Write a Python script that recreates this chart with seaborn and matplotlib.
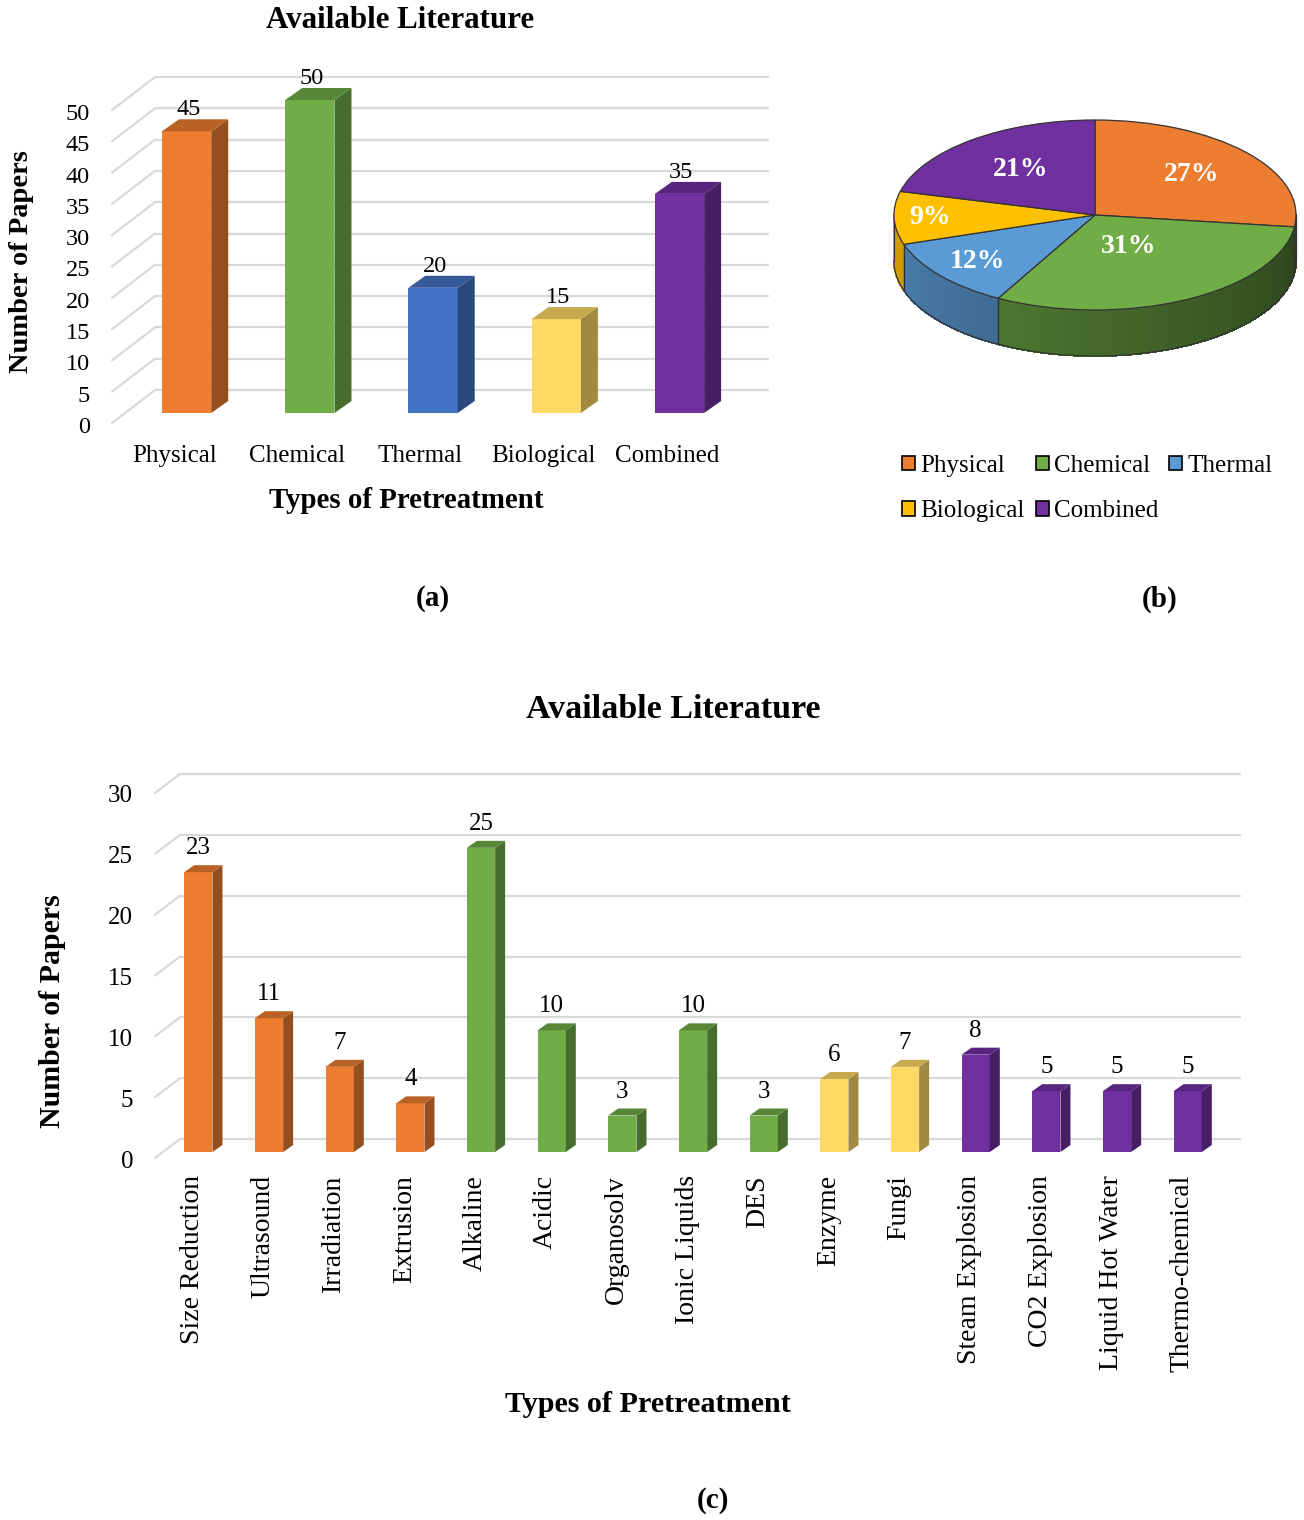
import numpy as np
import pandas as pd
import matplotlib
matplotlib.use("Agg")
import matplotlib.pyplot as plt
import seaborn as sns
import matplotlib.colors as mcolors
from matplotlib.patches import Polygon, Patch
from matplotlib.lines import Line2D
from matplotlib.collections import PolyCollection
from matplotlib.transforms import IdentityTransform

# ---------------- data ----------------
groups_a = ["Physical", "Chemical", "Thermal", "Biological", "Combined"]
papers_a = [45, 50, 20, 15, 35]
yticks_a = [0, 5, 10, 15, 20, 25, 30, 35, 40, 45, 50]

pie_groups = ["Physical", "Chemical", "Thermal", "Biological", "Combined"]
pie_pct = [27, 31, 12, 9, 21]

methods_c = ["Size Reduction", "Ultrasound", "Irradiation", "Extrusion",
             "Alkaline", "Acidic", "Organosolv", "Ionic Liquids", "DES",
             "Enzyme", "Fungi",
             "Steam Explosion", "CO2 Explosion", "Liquid Hot Water", "Thermo-chemical"]
papers_c = [23, 11, 7, 4, 25, 10, 3, 10, 3, 6, 7, 8, 5, 5, 5]
group_c = (["Physical"] * 4 + ["Chemical"] * 5 + ["Biological"] * 2 + ["Combined"] * 4)
yticks_c = [0, 5, 10, 15, 20, 25, 30]

bar_colors = {"Physical": "#ED7D31", "Chemical": "#70AD47", "Thermal": "#4472C4",
              "Biological": "#FFD966", "Combined": "#7030A0"}
pie_colors = {"Physical": "#ED7D31", "Chemical": "#70AD47", "Thermal": "#5B9BD5",
              "Biological": "#FFC000", "Combined": "#7030A0"}

# ---------------- setup ----------------
W, H = 1304, 1520
sns.set_theme(style="white")
plt.rcParams["font.family"] = ["Liberation Serif", "DejaVu Serif"]
plt.rcParams["text.color"] = "black"
fig = plt.figure(figsize=(W / 100, H / 100), dpi=100)
fig.patch.set_facecolor("white")
GRID = "#D9D9D9"
ID = IdentityTransform()


def px_axes(left, top, right, bottom):
    return fig.add_axes([left / W, 1 - bottom / H, (right - left) / W, (bottom - top) / H])


def shade(c, f):
    r, g, b = mcolors.to_rgb(c)
    return (r * f, g * f, b * f)


def fig_text(x, y, s, **kw):
    fig.text(x / W, 1 - y / H, s, color="black", **kw)


def frame3d(ax, ticks, front, back, tick_fs, lab_dx, lab_dy):
    x0, x1 = ax.get_xlim()
    for v in ticks:
        (lx, ly), (rx, _) = ax.transData.transform([(x0, v), (x1, v)])
        ax.add_line(Line2D([lx + front[0], lx + back[0]], [ly + front[1], ly + back[1]],
                           transform=ID, color=GRID, lw=1.6, clip_on=False, zorder=0.5))
        ax.add_line(Line2D([lx + back[0], rx + back[0]], [ly + back[1], ly + back[1]],
                           transform=ID, color=GRID, lw=1.6, clip_on=False, zorder=0.5))
        ax.text(lx + front[0] + lab_dx, ly + front[1] + lab_dy, f"{v}", transform=ID,
                ha="right", va="baseline", fontsize=tick_fs, color="black")


def bars3d(ax, depth, val_fs, val_gap, val_dx):
    dx, dy = depth
    for p in list(ax.patches):
        h = p.get_height()
        if not np.isfinite(h) or p.get_width() == 0:
            continue
        p.set_edgecolor("none")
        p.set_linewidth(0)
        x0 = p.get_x()
        x1 = x0 + p.get_width()
        (lx, ty), (rx, by) = ax.transData.transform([(x0, h), (x1, 0)])
        fc = p.get_facecolor()
        side = [(rx, by), (rx, ty), (rx + dx, ty + dy), (rx + dx, by + dy)]
        top = [(lx, ty), (rx, ty), (rx + dx, ty + dy), (lx + dx, ty + dy)]
        ax.add_patch(Polygon(side, closed=True, transform=ID, facecolor=shade(fc, 0.63),
                             edgecolor="none", clip_on=False, zorder=2))
        ax.add_patch(Polygon(top, closed=True, transform=ID, facecolor=shade(fc, 0.78),
                             edgecolor="none", clip_on=False, zorder=2))
        ax.text((lx + rx) / 2 + val_dx, ty + val_gap, f"{int(round(h))}", transform=ID,
                ha="center", va="baseline", fontsize=val_fs, color="black")


# ---------------- (a) bar chart ----------------
ax_a = px_axes(125, 100, 738, 413)
df_a = pd.DataFrame({"type": groups_a, "papers": papers_a})
sns.barplot(data=df_a, x="type", y="papers", hue="type", palette=bar_colors,
            order=groups_a, hue_order=groups_a, width=0.4, dodge=False,
            saturation=1, legend=False, ax=ax_a, zorder=2, linewidth=0)
ax_a.set_xlim(-0.5, 4.475)
ax_a.set_ylim(0, 50)
ax_a.axis("off")
front_a, back_a = (-13, -10), (30, 23)
frame3d(ax_a, yticks_a, front_a, back_a, 17.5, -22, -10)
bars3d(ax_a, (17, 12), 17.5, 16, 2)
for i, g in enumerate(groups_a):
    cx, by = ax_a.transData.transform((i, 0))
    ax_a.text(cx - 12.5, by - 49, g, transform=ID, ha="center", va="baseline",
              fontsize=18, color="black")

fig_text(400, 21, "Available Literature", ha="center", va="center", fontsize=22.3, fontweight="bold")
fig_text(406, 500, "Types of Pretreatment", ha="center", va="center", fontsize=20.8, fontweight="bold")
fig_text(22, 262, "Number of Papers", ha="center", va="center", rotation=90, fontsize=20.5, fontweight="bold")
fig_text(433, 599, "(a)", ha="center", va="center", fontsize=21, fontweight="bold")

# ---------------- (b) 3D pie ----------------
cxp, cyp, ra, rb = 1095, 215, 201, 95
ax_b = px_axes(cxp - ra, cyp - rb, cxp + ra, cyp + rb)
wedges, _ = ax_b.pie(pie_pct, colors=[pie_colors[g] for g in pie_groups], startangle=90,
                     counterclock=False, radius=1,
                     wedgeprops=dict(edgecolor="#333333", linewidth=0.9))
ax_b.set_aspect("auto")
ax_b.set_xlim(-1, 1)
ax_b.set_ylim(-1, 1)
ax_b.axis("off")
depth_b = 46 / rb
polys, cols = [], []
for w in wedges:
    ths = np.linspace(w.theta1, w.theta2, int(abs(w.theta2 - w.theta1)) * 2 + 2)
    base = mcolors.to_rgb(w.get_facecolor())
    for ta, tb in zip(ths[:-1], ths[1:]):
        tm = np.deg2rad((ta + tb) / 2)
        if np.sin(tm) >= 0:
            continue
        a, b = np.deg2rad(ta), np.deg2rad(tb)
        phi = np.rad2deg(tm) % 360
        f = 0.85 - 0.47 * (phi - 180) / 180
        polys.append([(np.cos(a), np.sin(a)), (np.cos(b), np.sin(b)),
                      (np.cos(b), np.sin(b) - depth_b), (np.cos(a), np.sin(a) - depth_b)])
        cols.append(tuple(c * f for c in base))
side = PolyCollection(polys, facecolors=cols, edgecolors=cols, linewidths=0.8,
                      antialiaseds=False, clip_on=False, zorder=0.5)
ax_b.add_collection(side)
tt = np.linspace(np.pi, 2 * np.pi, 200)
ax_b.plot(np.cos(tt), np.sin(tt) - depth_b, color="#333333", lw=0.9, clip_on=False, zorder=0.6)
for w in wedges:
    for th in (w.theta1, w.theta2):
        t = np.deg2rad(th)
        if np.sin(t) < -0.02:
            ax_b.plot([np.cos(t)] * 2, [np.sin(t), np.sin(t) - depth_b], color="#333333",
                      lw=0.9, clip_on=False, zorder=0.6)
for xe in (-1, 1):
    ax_b.plot([xe, xe], [0, -depth_b], color="#333333", lw=0.9, clip_on=False, zorder=0.6)
for w in wedges:
    w.set_zorder(1)

label_r = [0.64, 0.37, 0.76, 0.82, 0.6]
for w, pct, r in zip(wedges, pie_pct, label_r):
    tm = np.deg2rad((w.theta1 + w.theta2) / 2)
    ax_b.text(r * np.cos(tm), r * np.sin(tm), f"{pct}%", ha="center", va="center",
              fontsize=20, fontweight="bold", color="white", zorder=3)

order_leg = [0, 3, 1, 4, 2]
handles = [Patch(facecolor=pie_colors[pie_groups[i]], edgecolor="black", linewidth=1.2)
           for i in order_leg]
labels = [pie_groups[i] for i in order_leg]
fig.legend(handles, labels, loc="upper left", bbox_to_anchor=(902 / W, 1 - 455 / H),
           ncol=3, frameon=False, fontsize=18, handlelength=0.52, handleheight=0.52,
           handletextpad=0.2, columnspacing=0.45, labelspacing=0.93,
           borderpad=0, borderaxespad=0, labelcolor="black")
fig_text(1160, 599, "(b)", ha="center", va="center", fontsize=21, fontweight="bold")

# ---------------- (c) bar chart ----------------
ax_c = px_axes(163, 787, 1223, 1152)
df_c = pd.DataFrame({"method": methods_c, "papers": papers_c, "group": group_c})
sns.barplot(data=df_c, x="method", y="papers", hue="group", palette=bar_colors,
            order=methods_c, hue_order=["Physical", "Chemical", "Biological", "Combined"],
            width=0.4, dodge=False, saturation=1, legend=False, ax=ax_c, zorder=2,
            linewidth=0)
ax_c.set_xlim(-0.5, 14.5)
ax_c.set_ylim(0, 30)
ax_c.axis("off")
frame3d(ax_c, yticks_c, (-8, -6), (17, 13), 18, -22, -9.5)
bars3d(ax_c, (10, 7), 18, 18, 0)
for i, m in enumerate(methods_c):
    cx, by = ax_c.transData.transform((i, 0))
    ax_c.text(cx - 6, by - 23, m, transform=ID, ha="center", va="top", rotation=90,
              fontsize=20, color="black")

fig_text(673, 710, "Available Literature", ha="center", va="center", fontsize=24.5, fontweight="bold")
fig_text(648, 1405, "Types of Pretreatment", ha="center", va="center", fontsize=21.7, fontweight="bold")
fig_text(52, 1011, "Number of Papers", ha="center", va="center", rotation=90, fontsize=21.5, fontweight="bold")
fig_text(713, 1500, "(c)", ha="center", va="center", fontsize=21, fontweight="bold")

fig.savefig("out.png", dpi=100)
